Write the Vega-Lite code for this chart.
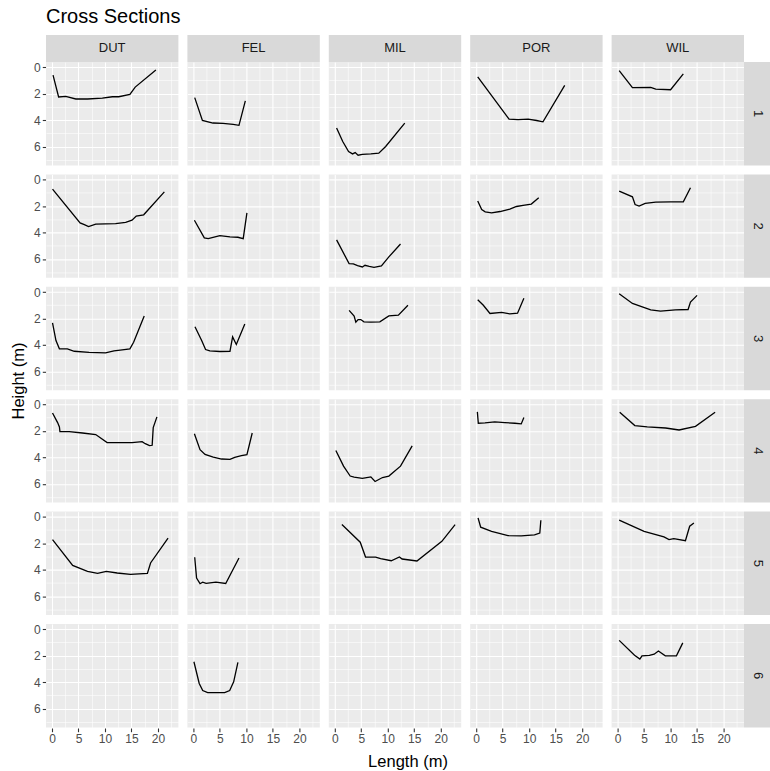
{
  "$schema": "https://vega.github.io/schema/vega-lite/v6.json",
  "padding": {"left": 10, "top": 6, "right": 0, "bottom": 0},
  "title": {"text": "Cross Sections", "anchor": "start", "frame": "group", "fontSize": 20, "fontWeight": "normal", "color": "#000000", "font": "Liberation Sans", "offset": 8},
  "datasets": {
    "pts": [
      {"s":"DUT","r":"1","x":0.2,"y":0.6},{"s":"DUT","r":"1","x":1.25,"y":2.25},{"s":"DUT","r":"1","x":2.6,"y":2.2},{"s":"DUT","r":"1","x":4.5,"y":2.4},{"s":"DUT","r":"1","x":6.7,"y":2.4},{"s":"DUT","r":"1","x":9.5,"y":2.33},{"s":"DUT","r":"1","x":11.4,"y":2.23},{"s":"DUT","r":"1","x":12.6,"y":2.23},{"s":"DUT","r":"1","x":14.7,"y":2.05},{"s":"DUT","r":"1","x":15.7,"y":1.5},{"s":"DUT","r":"1","x":19.6,"y":0.2},
      {"s":"FEL","r":"1","x":0.25,"y":2.3},{"s":"FEL","r":"1","x":1.7,"y":4.03},{"s":"FEL","r":"1","x":3.7,"y":4.22},{"s":"FEL","r":"1","x":5.6,"y":4.25},{"s":"FEL","r":"1","x":7.5,"y":4.33},{"s":"FEL","r":"1","x":8.6,"y":4.4},{"s":"FEL","r":"1","x":9.8,"y":2.55},
      {"s":"MIL","r":"1","x":0.34,"y":4.6},{"s":"MIL","r":"1","x":1.5,"y":5.62},{"s":"MIL","r":"1","x":2.6,"y":6.38},{"s":"MIL","r":"1","x":3.35,"y":6.56},{"s":"MIL","r":"1","x":3.85,"y":6.46},{"s":"MIL","r":"1","x":4.4,"y":6.66},{"s":"MIL","r":"1","x":5.2,"y":6.6},{"s":"MIL","r":"1","x":6.8,"y":6.56},{"s":"MIL","r":"1","x":8.3,"y":6.5},{"s":"MIL","r":"1","x":9.6,"y":6.0},{"s":"MIL","r":"1","x":13.2,"y":4.23},
      {"s":"POR","r":"1","x":0.29,"y":0.73},{"s":"POR","r":"1","x":6.2,"y":3.92},{"s":"POR","r":"1","x":7.9,"y":3.97},{"s":"POR","r":"1","x":9.8,"y":3.92},{"s":"POR","r":"1","x":11.4,"y":4.03},{"s":"POR","r":"1","x":12.6,"y":4.13},{"s":"POR","r":"1","x":16.7,"y":1.37},
      {"s":"WIL","r":"1","x":0.3,"y":0.25},{"s":"WIL","r":"1","x":2.8,"y":1.54},{"s":"WIL","r":"1","x":6.25,"y":1.52},{"s":"WIL","r":"1","x":7.2,"y":1.65},{"s":"WIL","r":"1","x":10,"y":1.7},{"s":"WIL","r":"1","x":12.4,"y":0.5},
      {"s":"DUT","r":"2","x":0.1,"y":0.72},{"s":"DUT","r":"2","x":5.3,"y":3.27},{"s":"DUT","r":"2","x":6.1,"y":3.4},{"s":"DUT","r":"2","x":6.9,"y":3.55},{"s":"DUT","r":"2","x":8.25,"y":3.37},{"s":"DUT","r":"2","x":10.1,"y":3.35},{"s":"DUT","r":"2","x":12,"y":3.32},{"s":"DUT","r":"2","x":13.9,"y":3.24},{"s":"DUT","r":"2","x":15.1,"y":3.07},{"s":"DUT","r":"2","x":15.9,"y":2.76},{"s":"DUT","r":"2","x":17.3,"y":2.66},{"s":"DUT","r":"2","x":21.2,"y":0.92},
      {"s":"FEL","r":"2","x":0.19,"y":3.07},{"s":"FEL","r":"2","x":2.06,"y":4.41},{"s":"FEL","r":"2","x":2.8,"y":4.46},{"s":"FEL","r":"2","x":5,"y":4.23},{"s":"FEL","r":"2","x":6.9,"y":4.33},{"s":"FEL","r":"2","x":8.4,"y":4.36},{"s":"FEL","r":"2","x":9.4,"y":4.46},{"s":"FEL","r":"2","x":10.1,"y":2.51},
      {"s":"MIL","r":"2","x":0.34,"y":4.56},{"s":"MIL","r":"2","x":2.7,"y":6.36},{"s":"MIL","r":"2","x":3.5,"y":6.38},{"s":"MIL","r":"2","x":4.3,"y":6.51},{"s":"MIL","r":"2","x":5.2,"y":6.61},{"s":"MIL","r":"2","x":5.7,"y":6.48},{"s":"MIL","r":"2","x":6.5,"y":6.56},{"s":"MIL","r":"2","x":7.4,"y":6.64},{"s":"MIL","r":"2","x":8.8,"y":6.53},{"s":"MIL","r":"2","x":10.2,"y":5.85},{"s":"MIL","r":"2","x":12.4,"y":4.87},
      {"s":"POR","r":"2","x":0.29,"y":1.62},{"s":"POR","r":"2","x":1.04,"y":2.26},{"s":"POR","r":"2","x":1.7,"y":2.43},{"s":"POR","r":"2","x":2.9,"y":2.51},{"s":"POR","r":"2","x":4.5,"y":2.41},{"s":"POR","r":"2","x":6.35,"y":2.23},{"s":"POR","r":"2","x":7.6,"y":2.03},{"s":"POR","r":"2","x":8.85,"y":1.95},{"s":"POR","r":"2","x":10.4,"y":1.85},{"s":"POR","r":"2","x":11.8,"y":1.37},
      {"s":"WIL","r":"2","x":0.3,"y":0.86},{"s":"WIL","r":"2","x":2.8,"y":1.3},{"s":"WIL","r":"2","x":3.3,"y":1.88},{"s":"WIL","r":"2","x":4.06,"y":2.0},{"s":"WIL","r":"2","x":5.2,"y":1.8},{"s":"WIL","r":"2","x":7.2,"y":1.7},{"s":"WIL","r":"2","x":10,"y":1.68},{"s":"WIL","r":"2","x":12.4,"y":1.68},{"s":"WIL","r":"2","x":13.75,"y":0.61},
      {"s":"DUT","r":"3","x":0.1,"y":2.33},{"s":"DUT","r":"3","x":0.75,"y":3.67},{"s":"DUT","r":"3","x":1.4,"y":4.3},{"s":"DUT","r":"3","x":2.9,"y":4.3},{"s":"DUT","r":"3","x":4.2,"y":4.48},{"s":"DUT","r":"3","x":7,"y":4.56},{"s":"DUT","r":"3","x":10.1,"y":4.6},{"s":"DUT","r":"3","x":11.7,"y":4.46},{"s":"DUT","r":"3","x":13.25,"y":4.38},{"s":"DUT","r":"3","x":14.7,"y":4.3},{"s":"DUT","r":"3","x":15.4,"y":3.8},{"s":"DUT","r":"3","x":17.4,"y":1.82},
      {"s":"FEL","r":"3","x":0.3,"y":2.63},{"s":"FEL","r":"3","x":1.56,"y":3.67},{"s":"FEL","r":"3","x":2.3,"y":4.35},{"s":"FEL","r":"3","x":3.1,"y":4.46},{"s":"FEL","r":"3","x":5,"y":4.5},{"s":"FEL","r":"3","x":6.9,"y":4.48},{"s":"FEL","r":"3","x":7.4,"y":3.39},{"s":"FEL","r":"3","x":8.1,"y":3.97},{"s":"FEL","r":"3","x":9.7,"y":2.41},
      {"s":"MIL","r":"3","x":2.7,"y":1.39},{"s":"MIL","r":"3","x":3.65,"y":1.82},{"s":"MIL","r":"3","x":3.97,"y":2.28},{"s":"MIL","r":"3","x":4.4,"y":2.08},{"s":"MIL","r":"3","x":4.9,"y":2.08},{"s":"MIL","r":"3","x":5.5,"y":2.25},{"s":"MIL","r":"3","x":6.8,"y":2.28},{"s":"MIL","r":"3","x":8.5,"y":2.25},{"s":"MIL","r":"3","x":10.2,"y":1.8},{"s":"MIL","r":"3","x":12,"y":1.75},{"s":"MIL","r":"3","x":13.8,"y":1.0},
      {"s":"POR","r":"3","x":0.29,"y":0.58},{"s":"POR","r":"3","x":1.35,"y":1.0},{"s":"POR","r":"3","x":2.6,"y":1.62},{"s":"POR","r":"3","x":4.8,"y":1.54},{"s":"POR","r":"3","x":6.35,"y":1.65},{"s":"POR","r":"3","x":7.8,"y":1.6},{"s":"POR","r":"3","x":9.0,"y":0.46},
      {"s":"WIL","r":"3","x":0.3,"y":0.13},{"s":"WIL","r":"3","x":2.8,"y":0.86},{"s":"WIL","r":"3","x":6.25,"y":1.34},{"s":"WIL","r":"3","x":8.1,"y":1.44},{"s":"WIL","r":"3","x":10.9,"y":1.34},{"s":"WIL","r":"3","x":13.3,"y":1.32},{"s":"WIL","r":"3","x":13.75,"y":0.76},{"s":"WIL","r":"3","x":15,"y":0.25},
      {"s":"DUT","r":"4","x":0.1,"y":0.64},{"s":"DUT","r":"4","x":1.06,"y":1.37},{"s":"DUT","r":"4","x":1.4,"y":1.7},{"s":"DUT","r":"4","x":1.5,"y":2.06},{"s":"DUT","r":"4","x":3.25,"y":2.06},{"s":"DUT","r":"4","x":5.75,"y":2.16},{"s":"DUT","r":"4","x":8.25,"y":2.28},{"s":"DUT","r":"4","x":10.4,"y":2.89},{"s":"DUT","r":"4","x":15.1,"y":2.89},{"s":"DUT","r":"4","x":17,"y":2.81},{"s":"DUT","r":"4","x":17.6,"y":2.97},{"s":"DUT","r":"4","x":18.4,"y":3.12},{"s":"DUT","r":"4","x":18.9,"y":3.09},{"s":"DUT","r":"4","x":19.1,"y":1.75},{"s":"DUT","r":"4","x":19.8,"y":0.94},
      {"s":"FEL","r":"4","x":0.19,"y":2.21},{"s":"FEL","r":"4","x":1.25,"y":3.42},{"s":"FEL","r":"4","x":2.2,"y":3.78},{"s":"FEL","r":"4","x":3.75,"y":3.98},{"s":"FEL","r":"4","x":5.3,"y":4.13},{"s":"FEL","r":"4","x":6.9,"y":4.16},{"s":"FEL","r":"4","x":7.8,"y":4.0},{"s":"FEL","r":"4","x":9.06,"y":3.88},{"s":"FEL","r":"4","x":10.1,"y":3.8},{"s":"FEL","r":"4","x":11.1,"y":2.16},
      {"s":"MIL","r":"4","x":0.2,"y":3.48},{"s":"MIL","r":"4","x":1.65,"y":4.67},{"s":"MIL","r":"4","x":2.9,"y":5.42},{"s":"MIL","r":"4","x":3.65,"y":5.5},{"s":"MIL","r":"4","x":5.2,"y":5.6},{"s":"MIL","r":"4","x":6.8,"y":5.48},{"s":"MIL","r":"4","x":7.6,"y":5.83},{"s":"MIL","r":"4","x":9.0,"y":5.53},{"s":"MIL","r":"4","x":10.2,"y":5.42},{"s":"MIL","r":"4","x":12.4,"y":4.67},{"s":"MIL","r":"4","x":14.6,"y":3.14},
      {"s":"POR","r":"4","x":0.22,"y":0.56},{"s":"POR","r":"4","x":0.4,"y":1.42},{"s":"POR","r":"4","x":1.66,"y":1.4},{"s":"POR","r":"4","x":3.5,"y":1.32},{"s":"POR","r":"4","x":5.4,"y":1.37},{"s":"POR","r":"4","x":7.3,"y":1.42},{"s":"POR","r":"4","x":8.5,"y":1.47},{"s":"POR","r":"4","x":9.0,"y":0.99},
      {"s":"WIL","r":"4","x":0.4,"y":0.59},{"s":"WIL","r":"4","x":3.25,"y":1.6},{"s":"WIL","r":"4","x":5.6,"y":1.7},{"s":"WIL","r":"4","x":9.06,"y":1.78},{"s":"WIL","r":"4","x":11.6,"y":1.93},{"s":"WIL","r":"4","x":14.7,"y":1.65},{"s":"WIL","r":"4","x":18.4,"y":0.59},
      {"s":"DUT","r":"5","x":0.1,"y":1.72},{"s":"DUT","r":"5","x":3.9,"y":3.67},{"s":"DUT","r":"5","x":6.7,"y":4.13},{"s":"DUT","r":"5","x":8.6,"y":4.28},{"s":"DUT","r":"5","x":10.25,"y":4.13},{"s":"DUT","r":"5","x":12.3,"y":4.25},{"s":"DUT","r":"5","x":14.8,"y":4.35},{"s":"DUT","r":"5","x":18,"y":4.28},{"s":"DUT","r":"5","x":18.6,"y":3.49},{"s":"DUT","r":"5","x":21.9,"y":1.6},
      {"s":"FEL","r":"5","x":0.25,"y":3.06},{"s":"FEL","r":"5","x":0.6,"y":4.63},{"s":"FEL","r":"5","x":1.25,"y":5.06},{"s":"FEL","r":"5","x":1.75,"y":4.94},{"s":"FEL","r":"5","x":2.4,"y":5.04},{"s":"FEL","r":"5","x":4.25,"y":4.94},{"s":"FEL","r":"5","x":6.1,"y":5.04},{"s":"FEL","r":"5","x":8.6,"y":3.11},
      {"s":"MIL","r":"5","x":1.34,"y":0.58},{"s":"MIL","r":"5","x":4.8,"y":1.92},{"s":"MIL","r":"5","x":5.8,"y":3.04},{"s":"MIL","r":"5","x":7.7,"y":3.04},{"s":"MIL","r":"5","x":8.65,"y":3.16},{"s":"MIL","r":"5","x":10.65,"y":3.32},{"s":"MIL","r":"5","x":12.2,"y":3.04},{"s":"MIL","r":"5","x":12.7,"y":3.19},{"s":"MIL","r":"5","x":15.5,"y":3.34},{"s":"MIL","r":"5","x":20.2,"y":1.85},{"s":"MIL","r":"5","x":22.7,"y":0.58},
      {"s":"POR","r":"5","x":0.35,"y":0.08},{"s":"POR","r":"5","x":0.85,"y":0.78},{"s":"POR","r":"5","x":2.9,"y":1.09},{"s":"POR","r":"5","x":6.0,"y":1.42},{"s":"POR","r":"5","x":8.5,"y":1.44},{"s":"POR","r":"5","x":11.0,"y":1.37},{"s":"POR","r":"5","x":12.0,"y":1.22},{"s":"POR","r":"5","x":12.2,"y":0.25},
      {"s":"WIL","r":"5","x":0.3,"y":0.25},{"s":"WIL","r":"5","x":5.0,"y":1.09},{"s":"WIL","r":"5","x":8.75,"y":1.52},{"s":"WIL","r":"5","x":9.7,"y":1.72},{"s":"WIL","r":"5","x":10.6,"y":1.65},{"s":"WIL","r":"5","x":12.8,"y":1.8},{"s":"WIL","r":"5","x":13.6,"y":0.71},{"s":"WIL","r":"5","x":14.4,"y":0.46},
      {"s":"FEL","r":"6","x":0.1,"y":2.46},{"s":"FEL","r":"6","x":1.1,"y":4.1},{"s":"FEL","r":"6","x":1.76,"y":4.64},{"s":"FEL","r":"6","x":2.7,"y":4.79},{"s":"FEL","r":"6","x":5.9,"y":4.79},{"s":"FEL","r":"6","x":6.85,"y":4.64},{"s":"FEL","r":"6","x":7.6,"y":3.98},{"s":"FEL","r":"6","x":8.4,"y":2.5},
      {"s":"WIL","r":"6","x":0.3,"y":0.84},{"s":"WIL","r":"6","x":3.2,"y":1.97},{"s":"WIL","r":"6","x":4.2,"y":2.26},{"s":"WIL","r":"6","x":4.6,"y":2.01},{"s":"WIL","r":"6","x":6.0,"y":1.97},{"s":"WIL","r":"6","x":6.9,"y":1.89},{"s":"WIL","r":"6","x":7.7,"y":1.65},{"s":"WIL","r":"6","x":9.0,"y":2.01},{"s":"WIL","r":"6","x":11.1,"y":2.01},{"s":"WIL","r":"6","x":12.3,"y":1.03},
      {"s":"DUT","r":"1","col":"DUT"},{"s":"FEL","r":"1","col":"FEL"},{"s":"MIL","r":"1","col":"MIL"},{"s":"POR","r":"1","col":"POR"},{"s":"WIL","r":"1","col":"WIL"},
      {"s":"WIL","r":"1","rowlab":"1"},{"s":"WIL","r":"2","rowlab":"2"},{"s":"WIL","r":"3","rowlab":"3"},{"s":"WIL","r":"4","rowlab":"4"},{"s":"WIL","r":"5","rowlab":"5"},{"s":"WIL","r":"6","rowlab":"6"},
      {"s":"DUT","r":"6"},{"s":"MIL","r":"6"},{"s":"POR","r":"6"}
    ]
  },
  "data": {"name": "pts"},
  "bounds": "flush",
  "spacing": {"row": 8.4, "column": 8.4},
  "facet": {
    "row": {"field": "r", "type": "nominal", "title": "Height (m)",
      "header": {"labels": false, "labelPadding": 0, "titleOrient": "left", "titleFontSize": 16.5, "titleFontWeight": "normal", "titleColor": "#000000", "titleFont": "Liberation Sans", "titlePadding": -4}},
    "column": {"field": "s", "type": "nominal", "title": "Length (m)",
      "header": {"labels": false, "labelPadding": 0, "titleOrient": "bottom", "titleFontSize": 16.5, "titleFontWeight": "normal", "titleColor": "#000000", "titleFont": "Liberation Sans", "titlePadding": -1}}
  },
  "spec": {
    "width": 132.4,
    "height": 103.4,
    "layer": [
      {
        "transform": [{"filter": "isValid(datum.x)"}],
        "mark": {"type": "line", "color": "#000000", "strokeWidth": 1.3},
        "encoding": {
          "x": {"field": "x", "type": "quantitative", "title": null,
            "scale": {"domain": [-1.13, 23.85], "nice": false, "zero": false},
            "axis": {"values": [0, 2.5, 5, 7.5, 10, 12.5, 15, 17.5, 20, 22.5],
              "labelExpr": "datum.value % 5 === 0 ? datum.label : ''",
              "gridWidth": {"condition": {"test": "datum.value % 5 !== 0", "value": 0.55}, "value": 1.1},
              "tickOpacity": {"condition": {"test": "datum.value % 5 !== 0", "value": 0}, "value": 1},
              "labelOverlap": false, "labelFlush": false}},
          "y": {"field": "y", "type": "quantitative", "title": null,
            "scale": {"domain": [-0.4, 7.43], "reverse": true, "nice": false, "zero": false},
            "axis": {"values": [0, 1, 2, 3, 4, 5, 6, 7],
              "labelExpr": "datum.value % 2 === 0 ? datum.label : ''",
              "gridWidth": {"condition": {"test": "datum.value % 2 !== 0", "value": 0.55}, "value": 1.1},
              "tickOpacity": {"condition": {"test": "datum.value % 2 !== 0", "value": 0}, "value": 1},
              "labelOverlap": false, "labelFlush": false}}
        }
      },
      {
        "transform": [{"filter": "isValid(datum.col)"}],
        "mark": {"type": "rect", "color": "#D9D9D9"},
        "encoding": {
          "x": {"datum": -1.13, "type": "quantitative", "title": null,
            "axis": {"values": [0, 2.5, 5, 7.5, 10, 12.5, 15, 17.5, 20, 22.5],
              "labelExpr": "datum.value % 5 === 0 ? datum.label : ''",
              "gridWidth": {"condition": {"test": "datum.value % 5 !== 0", "value": 0.55}, "value": 1.1},
              "tickOpacity": {"condition": {"test": "datum.value % 5 !== 0", "value": 0}, "value": 1},
              "labelOverlap": false, "labelFlush": false}},
          "x2": {"datum": 23.85},
          "y": {"datum": -2.45, "type": "quantitative", "title": null,
            "axis": {"values": [0, 1, 2, 3, 4, 5, 6, 7],
              "labelExpr": "datum.value % 2 === 0 ? datum.label : ''",
              "gridWidth": {"condition": {"test": "datum.value % 2 !== 0", "value": 0.55}, "value": 1.1},
              "tickOpacity": {"condition": {"test": "datum.value % 2 !== 0", "value": 0}, "value": 1},
              "labelOverlap": false, "labelFlush": false}},
          "y2": {"datum": -0.4}
        }
      },
      {
        "transform": [{"filter": "isValid(datum.col)"}],
        "mark": {"type": "text", "color": "#1A1A1A", "fontSize": 13, "font": "Liberation Sans", "baseline": "middle", "align": "center"},
        "encoding": {
          "x": {"datum": 11.36, "type": "quantitative", "title": null,
            "axis": {"values": [0, 2.5, 5, 7.5, 10, 12.5, 15, 17.5, 20, 22.5],
              "labelExpr": "datum.value % 5 === 0 ? datum.label : ''",
              "gridWidth": {"condition": {"test": "datum.value % 5 !== 0", "value": 0.55}, "value": 1.1},
              "tickOpacity": {"condition": {"test": "datum.value % 5 !== 0", "value": 0}, "value": 1},
              "labelOverlap": false, "labelFlush": false}},
          "y": {"datum": -1.425, "type": "quantitative", "title": null,
            "axis": {"values": [0, 1, 2, 3, 4, 5, 6, 7],
              "labelExpr": "datum.value % 2 === 0 ? datum.label : ''",
              "gridWidth": {"condition": {"test": "datum.value % 2 !== 0", "value": 0.55}, "value": 1.1},
              "tickOpacity": {"condition": {"test": "datum.value % 2 !== 0", "value": 0}, "value": 1},
              "labelOverlap": false, "labelFlush": false}},
          "text": {"field": "col"}
        }
      },
      {
        "transform": [{"filter": "isValid(datum.rowlab)"}],
        "mark": {"type": "rect", "color": "#D9D9D9"},
        "encoding": {
          "x": {"datum": 23.85, "type": "quantitative", "title": null,
            "axis": {"values": [0, 2.5, 5, 7.5, 10, 12.5, 15, 17.5, 20, 22.5],
              "labelExpr": "datum.value % 5 === 0 ? datum.label : ''",
              "gridWidth": {"condition": {"test": "datum.value % 5 !== 0", "value": 0.55}, "value": 1.1},
              "tickOpacity": {"condition": {"test": "datum.value % 5 !== 0", "value": 0}, "value": 1},
              "labelOverlap": false, "labelFlush": false}},
          "x2": {"datum": 28.94},
          "y": {"datum": -0.4, "type": "quantitative", "title": null,
            "axis": {"values": [0, 1, 2, 3, 4, 5, 6, 7],
              "labelExpr": "datum.value % 2 === 0 ? datum.label : ''",
              "gridWidth": {"condition": {"test": "datum.value % 2 !== 0", "value": 0.55}, "value": 1.1},
              "tickOpacity": {"condition": {"test": "datum.value % 2 !== 0", "value": 0}, "value": 1},
              "labelOverlap": false, "labelFlush": false}},
          "y2": {"datum": 7.43}
        }
      },
      {
        "transform": [{"filter": "isValid(datum.rowlab)"}],
        "mark": {"type": "text", "color": "#1A1A1A", "fontSize": 13, "font": "Liberation Sans", "baseline": "middle", "align": "center", "angle": 90},
        "encoding": {
          "x": {"datum": 26.4, "type": "quantitative", "title": null,
            "axis": {"values": [0, 2.5, 5, 7.5, 10, 12.5, 15, 17.5, 20, 22.5],
              "labelExpr": "datum.value % 5 === 0 ? datum.label : ''",
              "gridWidth": {"condition": {"test": "datum.value % 5 !== 0", "value": 0.55}, "value": 1.1},
              "tickOpacity": {"condition": {"test": "datum.value % 5 !== 0", "value": 0}, "value": 1},
              "labelOverlap": false, "labelFlush": false}},
          "y": {"datum": 3.515, "type": "quantitative", "title": null,
            "axis": {"values": [0, 1, 2, 3, 4, 5, 6, 7],
              "labelExpr": "datum.value % 2 === 0 ? datum.label : ''",
              "gridWidth": {"condition": {"test": "datum.value % 2 !== 0", "value": 0.55}, "value": 1.1},
              "tickOpacity": {"condition": {"test": "datum.value % 2 !== 0", "value": 0}, "value": 1},
              "labelOverlap": false, "labelFlush": false}},
          "text": {"field": "rowlab"}
        }
      }
    ]
  },
  "config": {
    "font": "Liberation Sans",
    "view": {"fill": "#EBEBEB", "stroke": null},
    "axis": {"domain": false, "gridColor": "#FFFFFF", "tickColor": "#333333", "tickSize": 3.7, "tickWidth": 1.1, "labelColor": "#4D4D4D", "labelFontSize": 12, "labelPadding": 2, "labelFont": "Liberation Sans"}
  }
}
